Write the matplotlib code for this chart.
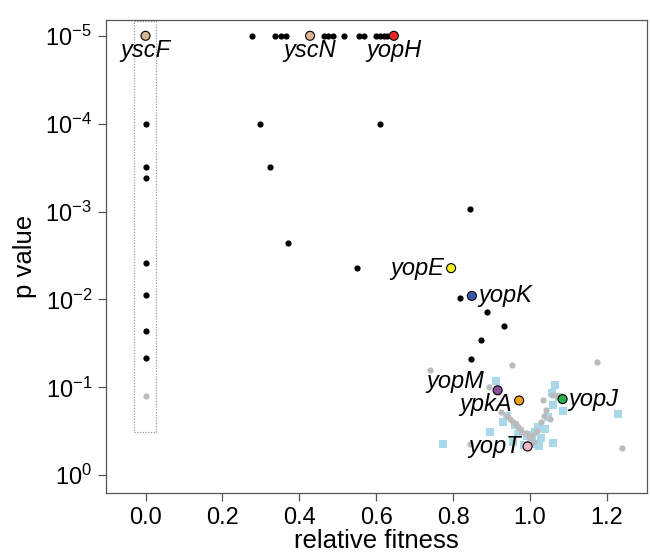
import numpy as np
import matplotlib
matplotlib.use("Agg")
import matplotlib.pyplot as plt
from matplotlib.patches import Rectangle

plt.rcParams['font.family'] = ['Liberation Sans', 'DejaVu Sans']
plt.rcParams['mathtext.fontset'] = 'custom'
plt.rcParams['mathtext.rm'] = 'Liberation Sans'

# black: significant mutants (relative fitness, p value)
black_fit = [0.0, 0.0, 0.0, 0.0, 0.0, 0.0, 0.0,
             0.278, 0.337, 0.353, 0.365, 0.464, 0.476, 0.488, 0.516,
             0.556, 0.568, 0.599, 0.610, 0.620, 0.629,
             0.298, 0.324, 0.370, 0.55, 0.61,
             0.845, 0.818, 0.888, 0.933, 0.873, 0.848]
black_p = [1e-4, 3.1e-4, 4.2e-4, 3.8e-3, 8.9e-3, 0.023, 0.046,
           1e-5, 1e-5, 1e-5, 1e-5, 1e-5, 1e-5, 1e-5, 1e-5,
           1e-5, 1e-5, 1e-5, 1e-5, 1e-5, 1e-5,
           1e-4, 3.1e-4, 2.3e-3, 4.4e-3, 1e-4,
           9.3e-4, 9.5e-3, 0.014, 0.020, 0.029, 0.047]

# grey: not significant
grey_fit = [0.0, 0.740, 0.954, 1.175, 0.894, 1.033, 1.057, 1.070, 1.240, 0.844,
            0.941, 0.957, 0.970, 0.978, 0.990, 1.005, 1.018, 1.030, 1.042, 1.051,
            0.925, 1.010, 0.998, 0.948, 0.965, 1.036]
grey_p = [0.126, 0.063, 0.055, 0.052, 0.10, 0.14, 0.123, 0.127, 0.49, 0.44,
          0.214, 0.245, 0.28, 0.31, 0.33, 0.35, 0.31, 0.25, 0.18, 0.23,
          0.19, 0.42, 0.38, 0.23, 0.26, 0.21]

# light blue squares: control set
ctrl_fit = [0.912, 1.057, 1.087, 1.228, 0.775, 0.896, 1.061, 0.941, 0.960, 0.975,
            0.992, 1.005, 1.014, 1.020, 1.048, 1.061, 1.065, 1.024, 0.955, 0.985,
            1.000, 1.040, 0.930, 1.075, 1.010, 0.968, 1.030]
ctrl_p = [0.085, 0.115, 0.185, 0.2, 0.44, 0.32, 0.43, 0.21, 0.27, 0.31,
          0.36, 0.40, 0.32, 0.28, 0.22, 0.16, 0.095, 0.46, 0.42, 0.45,
          0.35, 0.3, 0.25, 0.13, 0.44, 0.34, 0.38]

# highlighted genes
genes = ['yscF', 'yscN', 'yopH', 'yopE', 'yopK', 'yopM', 'ypkA', 'yopJ', 'yopT']
gene_fit = [0.0, 0.428, 0.646, 0.795, 0.849, 0.916, 0.972, 1.085, 0.994]
gene_p = [1e-5, 1e-5, 1e-5, 4.4e-3, 9.1e-3, 0.108, 0.141, 0.136, 0.47]
gene_col = ['#D6B48E', '#D6B48E', '#E8281E', '#F5EE1C', '#3A5BA8',
            '#8B4FA0', '#F2A21A', '#2EAE4A', '#F6B8C6']
# label placement: (dx, dy) in points, ha
gene_lab = [(0, -2, 'center'), (0, -2, 'center'), (0, -2, 'center'),
            (-5, 0, 'right'), (5, 0, 'left'), (-10, 6, 'right'),
            (-5, -3, 'right'), (4, 0, 'left'), (-5, 0, 'right')]

fig = plt.figure(figsize=(6.5, 5.55), dpi=100)
ax = fig.add_axes([0.163, 0.112, 0.832, 0.852])

ax.scatter(ctrl_fit, ctrl_p, marker='s', s=30, color='#A8D8EA', linewidths=0, zorder=2)
ax.scatter(grey_fit, grey_p, s=20, color='#BBBBBB', linewidths=0, zorder=3)
ax.scatter(black_fit, black_p, s=20, color='black', linewidths=0, zorder=4)
ax.scatter(gene_fit, gene_p, s=42, c=gene_col, edgecolors='black', linewidths=0.8, zorder=5)

for g, x, p, (dx, dy, ha) in zip(genes, gene_fit, gene_p, gene_lab):
    va = 'top' if ha == 'center' else 'center'
    ax.annotate(g, (x, p), xytext=(dx, dy), textcoords='offset points',
                ha=ha, va=va, fontsize=17, style='italic', zorder=6)

ax.add_patch(Rectangle((-0.03, 10**-5.17), 0.056, 10**-0.49 - 10**-5.17,
                       fill=False, linestyle=(0, (1, 1.2)), edgecolor='#999999',
                       linewidth=0.9, zorder=1))

ax.set_yscale('log')
ax.set_xlim(-0.103, 1.304)
ax.set_ylim(10**0.2, 10**-5.18)
ax.set_xticks([0.0, 0.2, 0.4, 0.6, 0.8, 1.0, 1.2])
ax.set_xticklabels(['0.0', '0.2', '0.4', '0.6', '0.8', '1.0', '1.2'])
yt = [1e0, 1e-1, 1e-2, 1e-3, 1e-4, 1e-5]
ax.set_yticks(yt)
ax.set_yticklabels([r'$\mathregular{10^{%d}}$' % int(np.log10(v)) for v in yt])
ax.minorticks_off()
ax.tick_params(direction='out', length=6, width=0.9, color='#555555',
               labelsize=17, pad=4)
for sp in ax.spines.values():
    sp.set_color('#555555')
    sp.set_linewidth(0.9)

ax.set_xlabel('relative fitness', fontsize=18.5, labelpad=0)
ax.set_ylabel('p value', fontsize=18.5, labelpad=6)

fig.savefig('out.png', dpi=100)
